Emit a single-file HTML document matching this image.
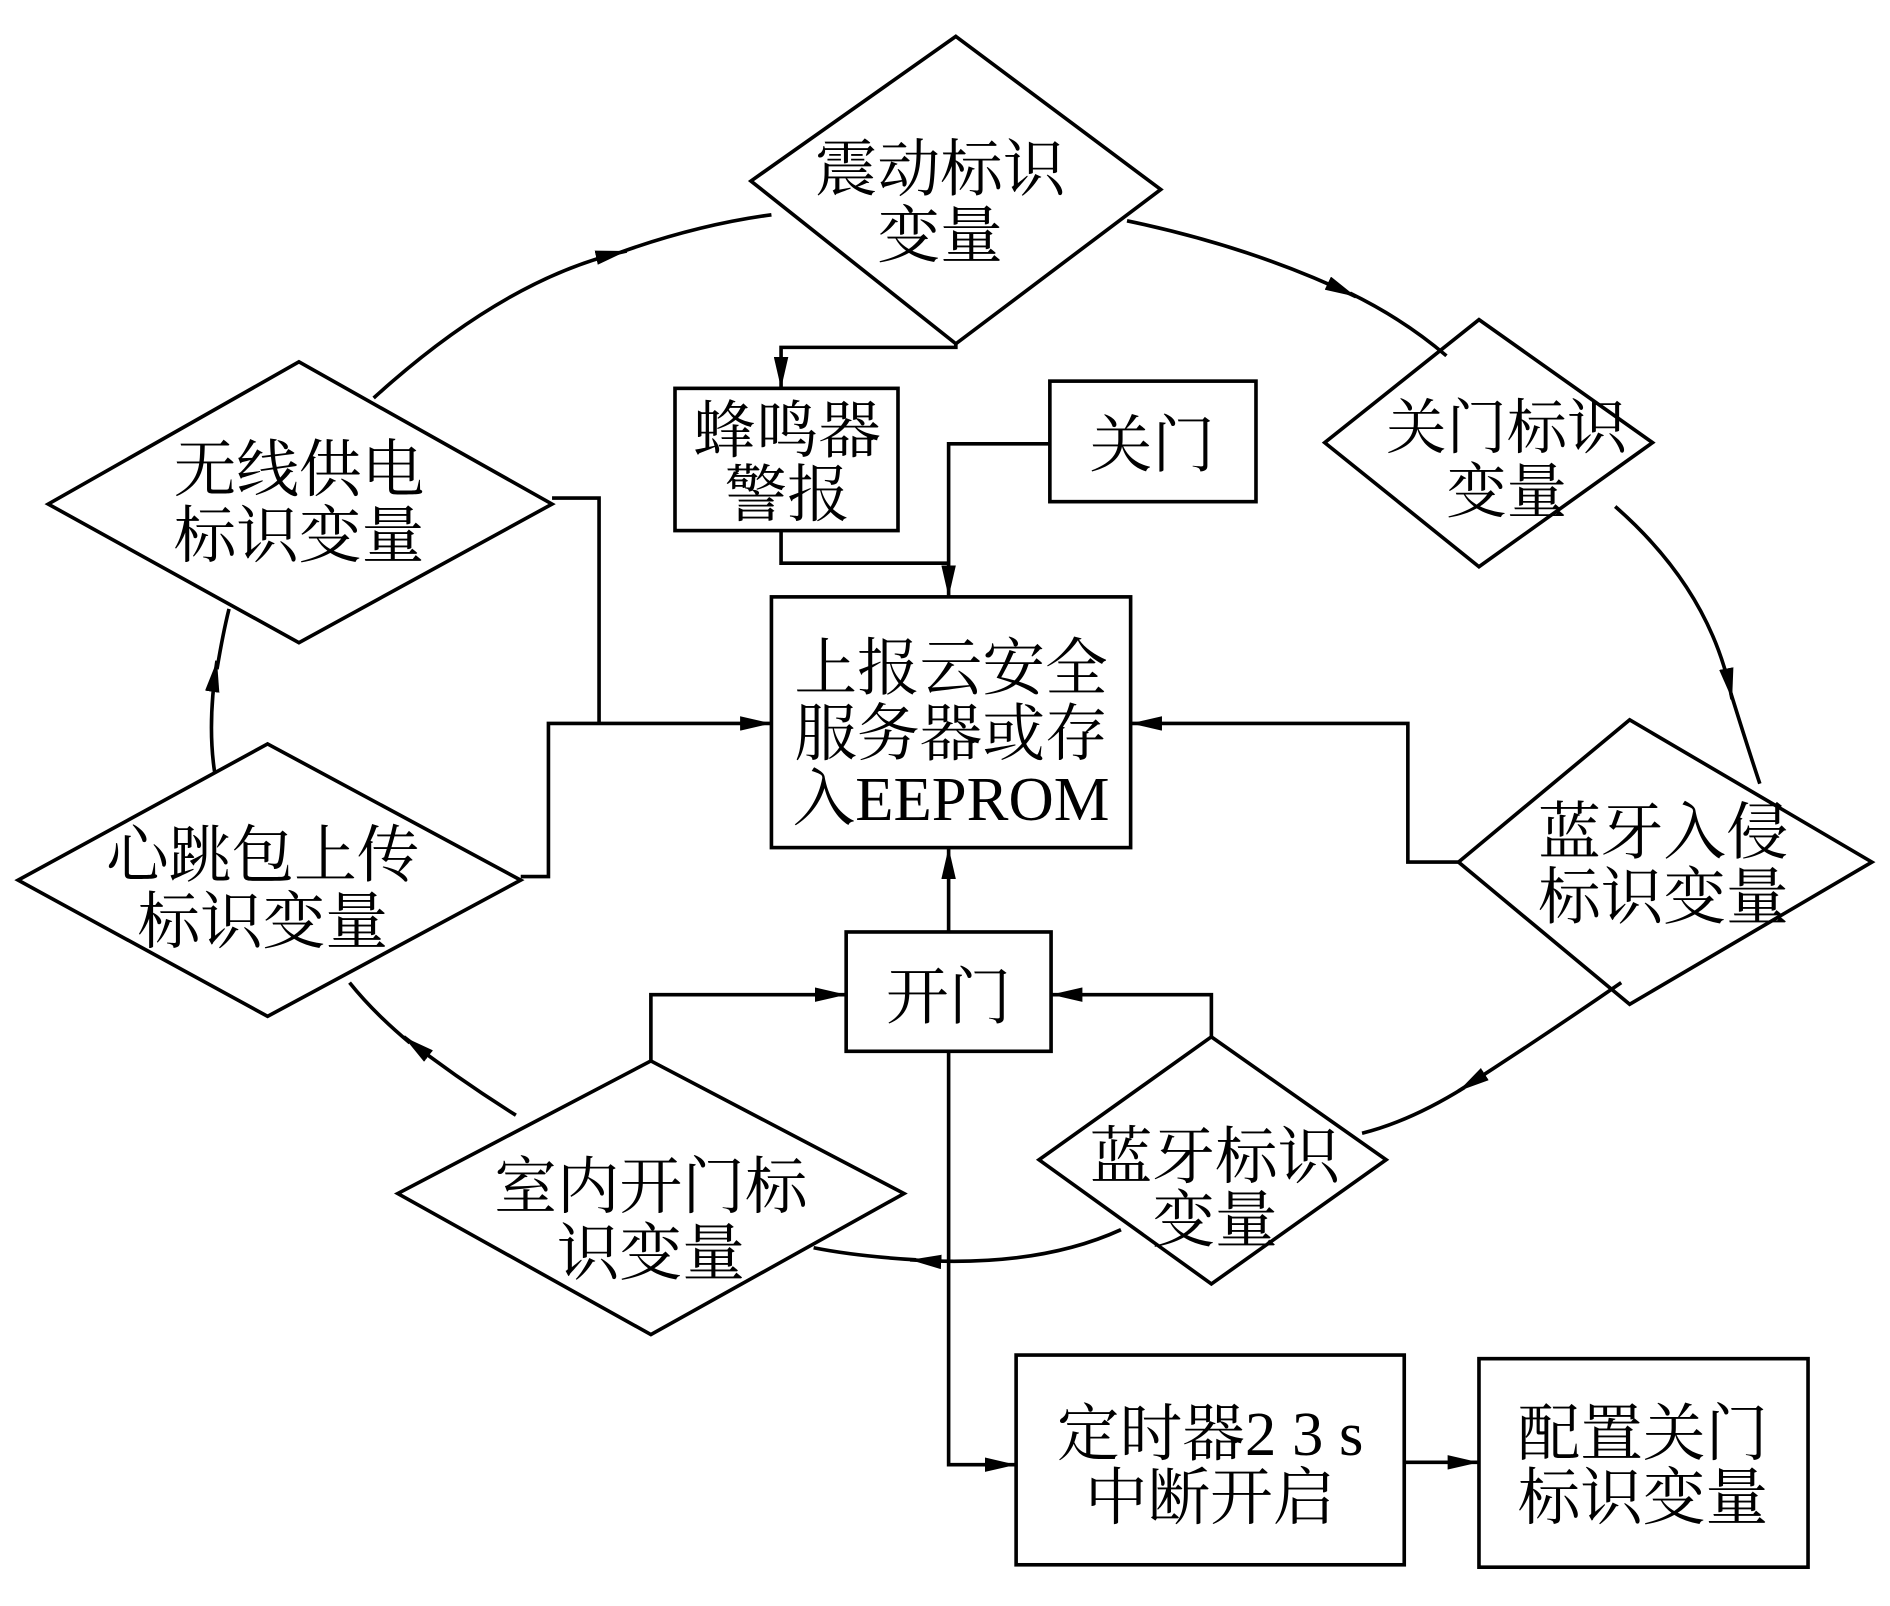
<!DOCTYPE html>
<html><head><meta charset="utf-8"><style>
html,body{margin:0;padding:0;background:#fff;}
svg{display:block;}
text{font-family:"Liberation Serif","Noto Serif CJK SC",serif;fill:#000;text-anchor:middle;}
</style></head><body>
<svg width="1890" height="1606" viewBox="0 0 1568 1332" xmlns="http://www.w3.org/2000/svg">
<defs>
<marker id="a" viewBox="0 0 26 12" refX="26" refY="6" markerWidth="26" markerHeight="12" markerUnits="userSpaceOnUse" orient="auto">
<path d="M0,0 L26,6 L0,12 Z" fill="#000"/></marker>
</defs>
<g fill="none" stroke="#000" stroke-width="3">
<!-- diamonds -->
<polygon points="793,30 963,157 793,285 623,150"/>
<polygon points="1227,265 1371,367 1227,470 1099,367"/>
<polygon points="248,300 458,418 248,533 40,418"/>
<polygon points="222,617 432,730 222,843 15,730"/>
<polygon points="1352,597 1553,715 1352,833 1210,715"/>
<polygon points="1005,860 1150,962 1005,1065 862,962"/>
<polygon points="540,880 750,990 540,1107 330,990"/>
<!-- boxes -->
<rect x="560" y="322" width="185" height="118"/>
<rect x="871" y="316" width="171" height="100"/>
<rect x="640" y="495" width="298" height="208"/>
<rect x="702" y="773" width="170" height="99"/>
<rect x="843" y="1124" width="322" height="174"/>
<rect x="1227" y="1127" width="273" height="173"/>
</g>
<g fill="none" stroke="#000" stroke-width="3">
<!-- arc segments -->
<path d="M310,330 Q420,230 520,208" marker-end="url(#a)"/>
<path d="M515,209 Q580,186 640,178"/>
<path d="M935,183 Q1040,205 1125,246" marker-end="url(#a)"/>
<path d="M1120,243 Q1165,265 1200,295"/>
<path d="M1340,420 Q1420,490 1437,580" marker-end="url(#a)"/>
<path d="M1436,575 Q1450,620 1460,650"/>
<path d="M1345,815 Q1280,860 1210,905" marker-end="url(#a)"/>
<path d="M1215,902 Q1170,930 1130,940"/>
<path d="M930,1020 Q860,1052 755,1045" marker-end="url(#a)"/>
<path d="M760,1045 Q710,1042 675,1035"/>
<path d="M428,925 Q380,895 335,860" marker-end="url(#a)"/>
<path d="M340,865 Q310,840 290,815"/>
<path d="M178,640 Q172,600 180,548" marker-end="url(#a)"/>
<path d="M180,555 Q185,525 190,505"/>
<!-- orthogonal -->
<polyline points="793,285 793,288 648,288 648,322" marker-end="url(#a)"/>
<polyline points="648,440 648,467 787,467"/>
<polyline points="871,368 787,368 787,495" marker-end="url(#a)"/>
<polyline points="458,413 497,413 497,600"/>
<polyline points="432,727 455,727 455,600 640,600" marker-end="url(#a)"/>
<polyline points="1210,715 1168,715 1168,600 938,600" marker-end="url(#a)"/>
<polyline points="787,773 787,703" marker-end="url(#a)"/>
<polyline points="540,880 540,825 702,825" marker-end="url(#a)"/>
<polyline points="1005,860 1005,825 872,825" marker-end="url(#a)"/>
<polyline points="787,872 787,1215 843,1215" marker-end="url(#a)"/>
<polyline points="1165,1213 1227,1213" marker-end="url(#a)"/>
</g>
<g font-size="52">
<text x="780" y="158">震动标识</text><text x="780" y="213">变量</text>
<text x="1250" y="372" font-size="50">关门标识</text><text x="1250" y="425" font-size="50">变量</text>
<text x="248" y="407">无线供电</text><text x="248" y="462">标识变量</text>
<text x="218" y="727">心跳包上传</text><text x="218" y="782">标识变量</text>
<text x="1380" y="708">蓝牙入侵</text><text x="1380" y="762">标识变量</text>
<text x="1008" y="977">蓝牙标识</text><text x="1008" y="1030">变量</text>
<text x="540" y="1002">室内开门标</text><text x="540" y="1057">识变量</text>
<text x="653" y="375">蜂鸣器</text><text x="653" y="428">警报</text>
<text x="956" y="387">关门</text>
<text x="789" y="572">上报云安全</text><text x="789" y="626">服务器或存</text><text x="789" y="680">入EEPROM</text>
<text x="787" y="845">开门</text>
<text x="1004" y="1207">定时器2 3 s</text><text x="1004" y="1260">中断开启</text>
<text x="1363" y="1207">配置关门</text><text x="1363" y="1260">标识变量</text>
</g>
</svg>
</body></html>
